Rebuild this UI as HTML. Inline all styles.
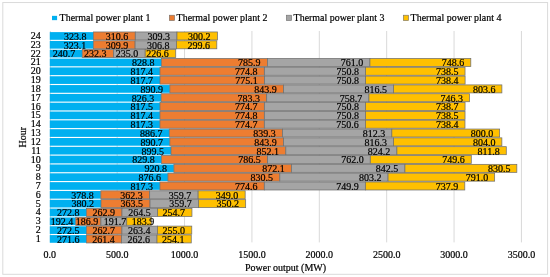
<!DOCTYPE html>
<html><head><meta charset="utf-8"><title>Thermal power plant output</title>
<style>
html,body{margin:0;padding:0;background:#fff;}
body{width:550px;height:277px;overflow:hidden;}
svg{display:block;will-change:transform;font-family:"Liberation Serif","Times New Roman",serif;font-size:10px;fill:#000;}
text{stroke:#000;stroke-width:0.2px;}
</style></head><body>
<svg width="550" height="277" viewBox="0 0 550 277">
<rect x="0" y="0" width="550" height="277" fill="#fff"/>
<rect x="2.8" y="2.55" width="544.8" height="271.75" fill="none" stroke="#dadada" stroke-width="1"/>

<g stroke="#d9d9d9" stroke-width="1">
<line x1="50.40" y1="31" x2="50.40" y2="242.4"/>
<line x1="117.17" y1="31" x2="117.17" y2="242.4"/>
<line x1="184.55" y1="31" x2="184.55" y2="242.4"/>
<line x1="251.93" y1="31" x2="251.93" y2="242.4"/>
<line x1="319.30" y1="31" x2="319.30" y2="242.4"/>
<line x1="386.68" y1="31" x2="386.68" y2="242.4"/>
<line x1="454.05" y1="31" x2="454.05" y2="242.4"/>
<line x1="521.43" y1="31" x2="521.43" y2="242.4"/>
</g>
<g stroke-width="0.75">
<rect x="49.80" y="32.11" width="43.63" height="7.70" fill="#00B0F0"/>
<rect x="93.43" y="31.96" width="41.85" height="8.00" fill="#ED7D31" stroke="#707070"/>
<rect x="135.29" y="31.96" width="41.68" height="8.00" fill="#A5A5A5" stroke="#707070"/>
<rect x="176.96" y="31.96" width="40.45" height="8.00" fill="#FFC000" stroke="#707070"/>
<rect x="49.80" y="40.94" width="43.54" height="7.70" fill="#00B0F0"/>
<rect x="93.34" y="40.79" width="41.76" height="8.00" fill="#ED7D31" stroke="#707070"/>
<rect x="135.10" y="40.79" width="41.34" height="8.00" fill="#A5A5A5" stroke="#707070"/>
<rect x="176.44" y="40.79" width="40.37" height="8.00" fill="#FFC000" stroke="#707070"/>
<rect x="49.80" y="49.76" width="32.43" height="7.70" fill="#00B0F0"/>
<rect x="82.23" y="49.61" width="31.30" height="8.00" fill="#ED7D31" stroke="#707070"/>
<rect x="113.54" y="49.61" width="31.67" height="8.00" fill="#A5A5A5" stroke="#707070"/>
<rect x="145.20" y="49.61" width="30.53" height="8.00" fill="#FFC000" stroke="#707070"/>
<rect x="49.80" y="58.59" width="111.68" height="7.70" fill="#00B0F0"/>
<rect x="161.48" y="58.44" width="105.90" height="8.00" fill="#ED7D31" stroke="#707070"/>
<rect x="267.38" y="58.44" width="102.54" height="8.00" fill="#A5A5A5" stroke="#707070"/>
<rect x="369.93" y="58.44" width="100.87" height="8.00" fill="#FFC000" stroke="#707070"/>
<rect x="49.80" y="67.41" width="110.14" height="7.70" fill="#00B0F0"/>
<rect x="159.94" y="67.26" width="104.40" height="8.00" fill="#ED7D31" stroke="#707070"/>
<rect x="264.35" y="67.26" width="101.17" height="8.00" fill="#A5A5A5" stroke="#707070"/>
<rect x="365.52" y="67.26" width="99.51" height="8.00" fill="#FFC000" stroke="#707070"/>
<rect x="49.80" y="76.24" width="110.19" height="7.70" fill="#00B0F0"/>
<rect x="159.99" y="76.09" width="104.44" height="8.00" fill="#ED7D31" stroke="#707070"/>
<rect x="264.43" y="76.09" width="101.17" height="8.00" fill="#A5A5A5" stroke="#707070"/>
<rect x="365.60" y="76.09" width="99.50" height="8.00" fill="#FFC000" stroke="#707070"/>
<rect x="49.80" y="85.06" width="120.05" height="7.70" fill="#00B0F0"/>
<rect x="169.85" y="84.91" width="113.72" height="8.00" fill="#ED7D31" stroke="#707070"/>
<rect x="283.56" y="84.91" width="110.02" height="8.00" fill="#A5A5A5" stroke="#707070"/>
<rect x="393.59" y="84.91" width="108.29" height="8.00" fill="#FFC000" stroke="#707070"/>
<rect x="49.80" y="93.89" width="111.34" height="7.70" fill="#00B0F0"/>
<rect x="161.14" y="93.74" width="105.55" height="8.00" fill="#ED7D31" stroke="#707070"/>
<rect x="266.69" y="93.74" width="102.23" height="8.00" fill="#A5A5A5" stroke="#707070"/>
<rect x="368.93" y="93.74" width="100.56" height="8.00" fill="#FFC000" stroke="#707070"/>
<rect x="49.80" y="102.71" width="110.16" height="7.70" fill="#00B0F0"/>
<rect x="159.96" y="102.56" width="104.39" height="8.00" fill="#ED7D31" stroke="#707070"/>
<rect x="264.35" y="102.56" width="101.17" height="8.00" fill="#A5A5A5" stroke="#707070"/>
<rect x="365.52" y="102.56" width="99.54" height="8.00" fill="#FFC000" stroke="#707070"/>
<rect x="49.80" y="111.54" width="110.14" height="7.70" fill="#00B0F0"/>
<rect x="159.94" y="111.39" width="104.40" height="8.00" fill="#ED7D31" stroke="#707070"/>
<rect x="264.35" y="111.39" width="101.17" height="8.00" fill="#A5A5A5" stroke="#707070"/>
<rect x="365.52" y="111.39" width="99.51" height="8.00" fill="#FFC000" stroke="#707070"/>
<rect x="49.80" y="120.36" width="110.13" height="7.70" fill="#00B0F0"/>
<rect x="159.93" y="120.21" width="104.39" height="8.00" fill="#ED7D31" stroke="#707070"/>
<rect x="264.32" y="120.21" width="101.14" height="8.00" fill="#A5A5A5" stroke="#707070"/>
<rect x="365.47" y="120.21" width="99.50" height="8.00" fill="#FFC000" stroke="#707070"/>
<rect x="49.80" y="129.19" width="119.48" height="7.70" fill="#00B0F0"/>
<rect x="169.28" y="129.04" width="113.10" height="8.00" fill="#ED7D31" stroke="#707070"/>
<rect x="282.38" y="129.04" width="109.46" height="8.00" fill="#A5A5A5" stroke="#707070"/>
<rect x="391.84" y="129.04" width="107.80" height="8.00" fill="#FFC000" stroke="#707070"/>
<rect x="49.80" y="138.01" width="120.02" height="7.70" fill="#00B0F0"/>
<rect x="169.82" y="137.86" width="113.72" height="8.00" fill="#ED7D31" stroke="#707070"/>
<rect x="283.54" y="137.86" width="110.00" height="8.00" fill="#A5A5A5" stroke="#707070"/>
<rect x="393.53" y="137.86" width="108.34" height="8.00" fill="#FFC000" stroke="#707070"/>
<rect x="49.80" y="146.84" width="121.21" height="7.70" fill="#00B0F0"/>
<rect x="171.01" y="146.69" width="114.82" height="8.00" fill="#ED7D31" stroke="#707070"/>
<rect x="285.83" y="146.69" width="111.06" height="8.00" fill="#A5A5A5" stroke="#707070"/>
<rect x="396.89" y="146.69" width="109.39" height="8.00" fill="#FFC000" stroke="#707070"/>
<rect x="49.80" y="155.66" width="111.82" height="7.70" fill="#00B0F0"/>
<rect x="161.62" y="155.51" width="105.98" height="8.00" fill="#ED7D31" stroke="#707070"/>
<rect x="267.60" y="155.51" width="102.68" height="8.00" fill="#A5A5A5" stroke="#707070"/>
<rect x="370.28" y="155.51" width="101.01" height="8.00" fill="#FFC000" stroke="#707070"/>
<rect x="49.80" y="164.49" width="124.08" height="7.70" fill="#00B0F0"/>
<rect x="173.88" y="164.34" width="117.52" height="8.00" fill="#ED7D31" stroke="#707070"/>
<rect x="291.39" y="164.34" width="113.53" height="8.00" fill="#A5A5A5" stroke="#707070"/>
<rect x="404.92" y="164.34" width="111.91" height="8.00" fill="#FFC000" stroke="#707070"/>
<rect x="49.80" y="173.31" width="118.12" height="7.70" fill="#00B0F0"/>
<rect x="167.92" y="173.16" width="111.91" height="8.00" fill="#ED7D31" stroke="#707070"/>
<rect x="279.83" y="173.16" width="108.23" height="8.00" fill="#A5A5A5" stroke="#707070"/>
<rect x="388.06" y="173.16" width="106.59" height="8.00" fill="#FFC000" stroke="#707070"/>
<rect x="49.80" y="182.14" width="110.13" height="7.70" fill="#00B0F0"/>
<rect x="159.93" y="181.99" width="104.38" height="8.00" fill="#ED7D31" stroke="#707070"/>
<rect x="264.31" y="181.99" width="101.05" height="8.00" fill="#A5A5A5" stroke="#707070"/>
<rect x="365.36" y="181.99" width="99.43" height="8.00" fill="#FFC000" stroke="#707070"/>
<rect x="49.80" y="190.96" width="51.04" height="7.70" fill="#00B0F0"/>
<rect x="100.84" y="190.81" width="48.82" height="8.00" fill="#ED7D31" stroke="#707070"/>
<rect x="149.66" y="190.81" width="48.47" height="8.00" fill="#A5A5A5" stroke="#707070"/>
<rect x="198.13" y="190.81" width="47.03" height="8.00" fill="#FFC000" stroke="#707070"/>
<rect x="49.80" y="199.79" width="51.23" height="7.70" fill="#00B0F0"/>
<rect x="101.03" y="199.64" width="48.98" height="8.00" fill="#ED7D31" stroke="#707070"/>
<rect x="150.01" y="199.64" width="48.47" height="8.00" fill="#A5A5A5" stroke="#707070"/>
<rect x="198.48" y="199.64" width="47.19" height="8.00" fill="#FFC000" stroke="#707070"/>
<rect x="49.80" y="208.61" width="36.76" height="7.70" fill="#00B0F0"/>
<rect x="86.56" y="208.46" width="35.43" height="8.00" fill="#ED7D31" stroke="#707070"/>
<rect x="121.99" y="208.46" width="35.64" height="8.00" fill="#A5A5A5" stroke="#707070"/>
<rect x="157.63" y="208.46" width="34.32" height="8.00" fill="#FFC000" stroke="#707070"/>
<rect x="49.80" y="217.44" width="25.93" height="7.70" fill="#00B0F0"/>
<rect x="75.73" y="217.29" width="25.18" height="8.00" fill="#ED7D31" stroke="#707070"/>
<rect x="100.91" y="217.29" width="25.83" height="8.00" fill="#A5A5A5" stroke="#707070"/>
<rect x="126.74" y="217.29" width="24.78" height="8.00" fill="#FFC000" stroke="#707070"/>
<rect x="49.80" y="226.26" width="36.72" height="7.70" fill="#00B0F0"/>
<rect x="86.52" y="226.11" width="35.40" height="8.00" fill="#ED7D31" stroke="#707070"/>
<rect x="121.92" y="226.11" width="35.49" height="8.00" fill="#A5A5A5" stroke="#707070"/>
<rect x="157.41" y="226.11" width="34.36" height="8.00" fill="#FFC000" stroke="#707070"/>
<rect x="49.80" y="235.09" width="36.60" height="7.70" fill="#00B0F0"/>
<rect x="86.40" y="234.94" width="35.22" height="8.00" fill="#ED7D31" stroke="#707070"/>
<rect x="121.62" y="234.94" width="35.39" height="8.00" fill="#A5A5A5" stroke="#707070"/>
<rect x="157.01" y="234.94" width="34.24" height="8.00" fill="#FFC000" stroke="#707070"/>
</g>
<g text-anchor="middle">
<text x="75.19" y="39.81">323.8</text>
<text x="117.10" y="39.81">310.6</text>
<text x="158.83" y="39.81">309.3</text>
<text x="199.34" y="39.81">300.2</text>
<text x="75.10" y="48.64">323.1</text>
<text x="116.91" y="48.64">309.9</text>
<text x="158.31" y="48.64">306.8</text>
<text x="198.73" y="48.64">299.6</text>
<text x="63.98" y="57.46">240.7</text>
<text x="95.32" y="57.46">232.3</text>
<text x="127.03" y="57.46">235.0</text>
<text x="157.61" y="57.46">226.6</text>
<text x="143.33" y="66.29">828.8</text>
<text x="249.37" y="66.29">785.9</text>
<text x="352.05" y="66.29">761.0</text>
<text x="453.06" y="66.29">748.6</text>
<text x="141.79" y="75.11">817.4</text>
<text x="246.34" y="75.11">774.8</text>
<text x="347.64" y="75.11">750.8</text>
<text x="447.29" y="75.11">738.5</text>
<text x="141.83" y="83.94">817.7</text>
<text x="246.42" y="83.94">775.1</text>
<text x="347.72" y="83.94">750.8</text>
<text x="447.35" y="83.94">738.4</text>
<text x="151.71" y="92.76">890.9</text>
<text x="265.58" y="92.76">843.9</text>
<text x="375.75" y="92.76">816.5</text>
<text x="484.18" y="92.76">803.6</text>
<text x="142.99" y="101.59">826.3</text>
<text x="248.68" y="101.59">783.3</text>
<text x="351.05" y="101.59">758.7</text>
<text x="451.75" y="101.59">746.3</text>
<text x="141.81" y="110.41">817.5</text>
<text x="246.34" y="110.41">774.7</text>
<text x="347.64" y="110.41">750.8</text>
<text x="447.31" y="110.41">738.7</text>
<text x="141.79" y="119.24">817.4</text>
<text x="246.34" y="119.24">774.8</text>
<text x="347.64" y="119.24">750.8</text>
<text x="447.29" y="119.24">738.5</text>
<text x="141.78" y="128.06">817.3</text>
<text x="246.31" y="128.06">774.7</text>
<text x="347.59" y="128.06">750.6</text>
<text x="447.22" y="128.06">738.4</text>
<text x="151.14" y="136.89">886.7</text>
<text x="264.39" y="136.89">839.3</text>
<text x="373.99" y="136.89">812.3</text>
<text x="481.94" y="136.89">800.0</text>
<text x="151.68" y="145.71">890.7</text>
<text x="265.55" y="145.71">843.9</text>
<text x="375.69" y="145.71">816.3</text>
<text x="484.18" y="145.71">804.0</text>
<text x="152.87" y="154.54">899.5</text>
<text x="267.84" y="154.54">852.1</text>
<text x="379.05" y="154.54">824.2</text>
<text x="488.59" y="154.54">811.8</text>
<text x="143.46" y="163.36">829.8</text>
<text x="249.59" y="163.36">786.5</text>
<text x="352.40" y="163.36">762.0</text>
<text x="453.55" y="163.36">749.6</text>
<text x="155.74" y="172.19">920.8</text>
<text x="273.42" y="172.19">872.1</text>
<text x="387.09" y="172.19">842.5</text>
<text x="499.15" y="172.19">830.5</text>
<text x="149.78" y="181.01">876.6</text>
<text x="261.84" y="181.01">830.5</text>
<text x="370.21" y="181.01">803.2</text>
<text x="476.94" y="181.01">791.0</text>
<text x="141.78" y="189.84">817.3</text>
<text x="246.30" y="189.84">774.6</text>
<text x="347.48" y="189.84">749.9</text>
<text x="447.04" y="189.84">737.9</text>
<text x="82.61" y="198.66">378.8</text>
<text x="131.50" y="198.66">362.3</text>
<text x="180.03" y="198.66">359.7</text>
<text x="227.12" y="198.66">349.0</text>
<text x="82.80" y="207.49">380.2</text>
<text x="131.85" y="207.49">363.5</text>
<text x="180.38" y="207.49">359.7</text>
<text x="227.63" y="207.49">350.2</text>
<text x="68.31" y="216.31">272.8</text>
<text x="103.78" y="216.31">262.9</text>
<text x="139.47" y="216.31">264.5</text>
<text x="173.84" y="216.31">254.7</text>
<text x="62.00" y="225.14">192.4</text>
<text x="87.00" y="225.14">186.9</text>
<text x="115.00" y="225.14">191.7</text>
<text x="143.10" y="225.14">183.9</text>
<text x="68.27" y="233.96">272.5</text>
<text x="103.71" y="233.96">262.7</text>
<text x="139.26" y="233.96">263.4</text>
<text x="173.66" y="233.96">255.0</text>
<text x="68.15" y="242.79">271.6</text>
<text x="103.42" y="242.79">261.4</text>
<text x="138.85" y="242.79">262.6</text>
<text x="173.14" y="242.79">254.1</text>
</g>
<g text-anchor="end">
<text x="40.8" y="38.96">24</text>
<text x="40.8" y="47.79">23</text>
<text x="40.8" y="56.61">22</text>
<text x="40.8" y="65.44">21</text>
<text x="40.8" y="74.26">20</text>
<text x="40.8" y="83.09">19</text>
<text x="40.8" y="91.91">18</text>
<text x="40.8" y="100.74">17</text>
<text x="40.8" y="109.56">16</text>
<text x="40.8" y="118.39">15</text>
<text x="40.8" y="127.21">14</text>
<text x="40.8" y="136.04">13</text>
<text x="40.8" y="144.86">12</text>
<text x="40.8" y="153.69">11</text>
<text x="40.8" y="162.51">10</text>
<text x="40.8" y="171.34">9</text>
<text x="40.8" y="180.16">8</text>
<text x="40.8" y="188.99">7</text>
<text x="40.8" y="197.81">6</text>
<text x="40.8" y="206.64">5</text>
<text x="40.8" y="215.46">4</text>
<text x="40.8" y="224.29">3</text>
<text x="40.8" y="233.11">2</text>
<text x="40.8" y="241.94">1</text>
</g>
<g text-anchor="middle">
<text x="49.80" y="258.2">0.0</text>
<text x="117.17" y="258.2">500.0</text>
<text x="184.55" y="258.2">1000.0</text>
<text x="251.93" y="258.2">1500.0</text>
<text x="319.30" y="258.2">2000.0</text>
<text x="386.68" y="258.2">2500.0</text>
<text x="454.05" y="258.2">3000.0</text>
<text x="521.43" y="258.2">3500.0</text>
</g>
<text x="285.5" y="270.6" text-anchor="middle">Power output (MW)</text>
<text transform="translate(26,137.2) rotate(-90)" text-anchor="middle">Hour</text>
<rect x="52.0" y="15.85" width="5.1" height="4.3" fill="#00B0F0"/>
<text x="59.6" y="21" style="font-size:9.95px">Thermal power plant 1</text>
<rect x="169.3" y="15.2" width="5.3" height="5.4" fill="#ED7D31" stroke="#707070" stroke-width="0.6"/>
<text x="176.6" y="21" style="font-size:9.95px">Thermal power plant 2</text>
<rect x="286.3" y="15.2" width="5.3" height="5.4" fill="#A5A5A5" stroke="#707070" stroke-width="0.6"/>
<text x="293.6" y="21" style="font-size:9.95px">Thermal power plant 3</text>
<rect x="403.3" y="15.2" width="5.3" height="5.4" fill="#FFC000" stroke="#707070" stroke-width="0.6"/>
<text x="410.6" y="21" style="font-size:9.95px">Thermal power plant 4</text>
</svg></body></html>
